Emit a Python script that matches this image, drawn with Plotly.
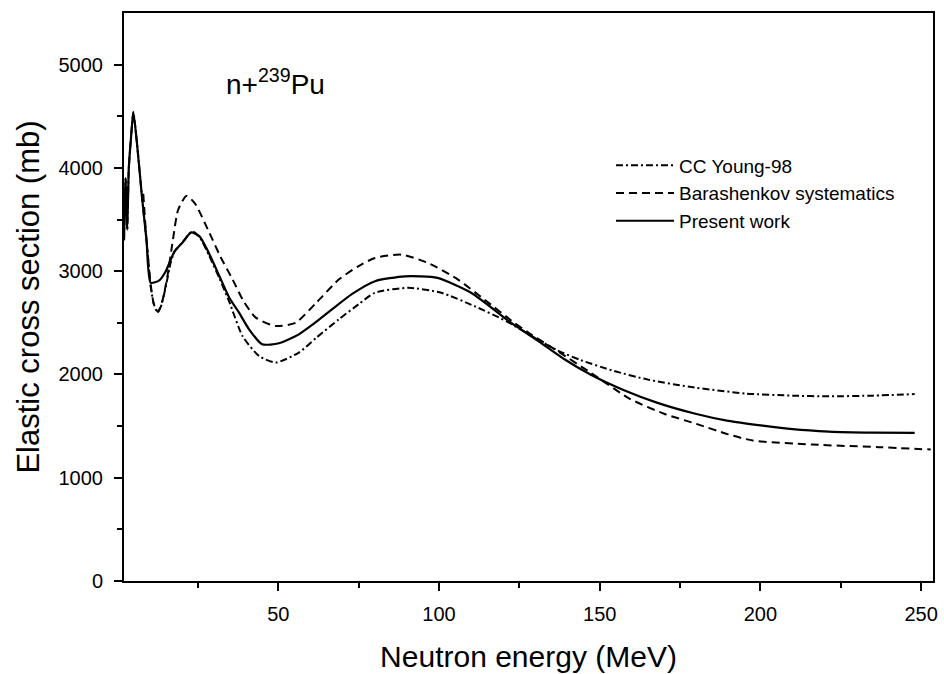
import plotly.graph_objects as go

# ---- data ----
young_x = [2, 2.5, 3, 3.5, 4.2, 4.9, 6, 7.5, 9, 10.3, 11.3, 12.4, 13.5, 15, 16.5, 17.7, 20, 23.2,
           25.5, 28.5, 31.7, 34.8, 38.9, 44, 49.2, 56.4, 62, 68.8, 75, 80.1, 90.4, 100.7, 111,
           121.3, 130.6, 137, 144, 154.3, 165, 178, 195.5, 210, 221.3, 235, 248]
young_y = [3300, 3900, 3400, 4000, 4300, 4540, 4250, 3750, 3300, 2850, 2680, 2604, 2660, 2850, 3080, 3190, 3270, 3385,
           3330, 3150, 2930, 2700, 2370, 2180, 2115, 2212, 2360, 2533, 2680, 2791, 2839, 2791, 2662,
           2510, 2340, 2230, 2140, 2035, 1950, 1880, 1815, 1795, 1788, 1795, 1810]

bara_x = [8, 9, 10.3, 11.3, 12.6, 14, 15.5, 17.2, 18.8, 21.4, 24, 28.6, 32, 35.8, 39, 43, 49.2, 55.4,
          62, 68.8, 75, 80.1, 88.3, 96.6, 105.9, 114.1, 123.4, 128.6, 136.8, 147.1, 159.5, 170,
          180.1, 190, 197.6, 216.2, 236.8, 253]
bara_y = [3750, 3300, 2870, 2680, 2604, 2720, 2950, 3300, 3590, 3729, 3660, 3369, 3140, 2919, 2720, 2550, 2469, 2501,
          2700, 2919, 3050, 3128, 3160, 3080, 2919, 2726, 2501, 2389, 2228, 2019, 1762, 1620,
          1521, 1420, 1360, 1321, 1296, 1273]

present_x = [2, 2.5, 3, 3.5, 4.2, 4.9, 6, 7.5, 9, 10.3, 13, 15, 17.7, 20, 22.9, 25.5, 28.5, 31.7, 34.8,
             37.8, 40.9, 45, 50.2, 56.4, 61, 66.7, 73, 80.1, 89.4, 99.5, 110, 122.4, 130.6, 138.9,
             147.1, 157.4, 168, 180.1, 190, 200.7, 210, 221.3, 235, 248]
present_y = [3300, 3900, 3400, 4000, 4300, 4540, 4250, 3750, 3300, 2887, 2912, 3000, 3190, 3270, 3375, 3337, 3170, 2951, 2740,
             2598, 2437, 2292, 2302, 2388, 2490, 2630, 2780, 2903, 2950, 2935, 2791, 2501, 2330, 2150,
             2000, 1850, 1725, 1617, 1550, 1504, 1470, 1447, 1437, 1434]

x_ticks = [50, 100, 150, 200, 250]
x_minor = [25, 75, 125, 175, 225]
y_ticks = [0, 1000, 2000, 3000, 4000, 5000]
y_minor = [500, 1500, 2500, 3500, 4500]

FONT = "Liberation Sans, Arial, Helvetica, sans-serif"

fig = go.Figure()
fig.add_trace(go.Scatter(x=young_x, y=young_y, mode="lines", name="CC Young-98",
                         line=dict(color="black", width=2, dash="7px,3px,2px,3px", shape="spline", smoothing=0.6)))
fig.add_trace(go.Scatter(x=bara_x, y=bara_y, mode="lines", name="Barashenkov systematics",
                         line=dict(color="black", width=2, dash="8px,5px", shape="spline", smoothing=0.6)))
fig.add_trace(go.Scatter(x=present_x, y=present_y, mode="lines", name="Present work",
                         line=dict(color="black", width=2.2, shape="spline", smoothing=0.6)))

axis_common = dict(showline=True, linecolor="black", linewidth=2, mirror=True, showgrid=False,
                   zeroline=False, ticks="outside", ticklen=8, tickwidth=2, tickcolor="black",
                   tickfont=dict(family=FONT, size=20, color="black"))

fig.update_xaxes(range=[2, 253.7], tickvals=x_ticks, ticklabelstandoff=6,
                 minor=dict(tickvals=x_minor, ticks="outside", ticklen=5, tickwidth=2, tickcolor="black"),
                 title=dict(text="Neutron energy (MeV)", font=dict(family=FONT, size=30, color="black"), standoff=22),
                 **axis_common)
fig.update_yaxes(range=[0, 5500], tickvals=y_ticks, ticklabelstandoff=7,
                 minor=dict(tickvals=y_minor, ticks="outside", ticklen=5, tickwidth=2, tickcolor="black"),
                 title=dict(text="Elastic cross section (mb)", font=dict(family=FONT, size=31, color="black"), standoff=10),
                 **axis_common)

fig.add_annotation(x=33.0, y=4830, xref="x", yref="y", text="n+<sup>239</sup>Pu", showarrow=False,
                   xanchor="left", yanchor="middle", font=dict(family=FONT, size=28, color="black"))

fig.update_layout(
    width=944, height=674,
    margin=dict(l=124, r=6, t=13, b=91),
    paper_bgcolor="white", plot_bgcolor="white",
    showlegend=True,
    legend=dict(x=0.602, y=0.765, xanchor="left", yanchor="top", bgcolor="rgba(0,0,0,0)",
                font=dict(family=FONT, size=19, color="black"), tracegroupgap=0, itemwidth=58),
)

fig.write_html("out.html")
